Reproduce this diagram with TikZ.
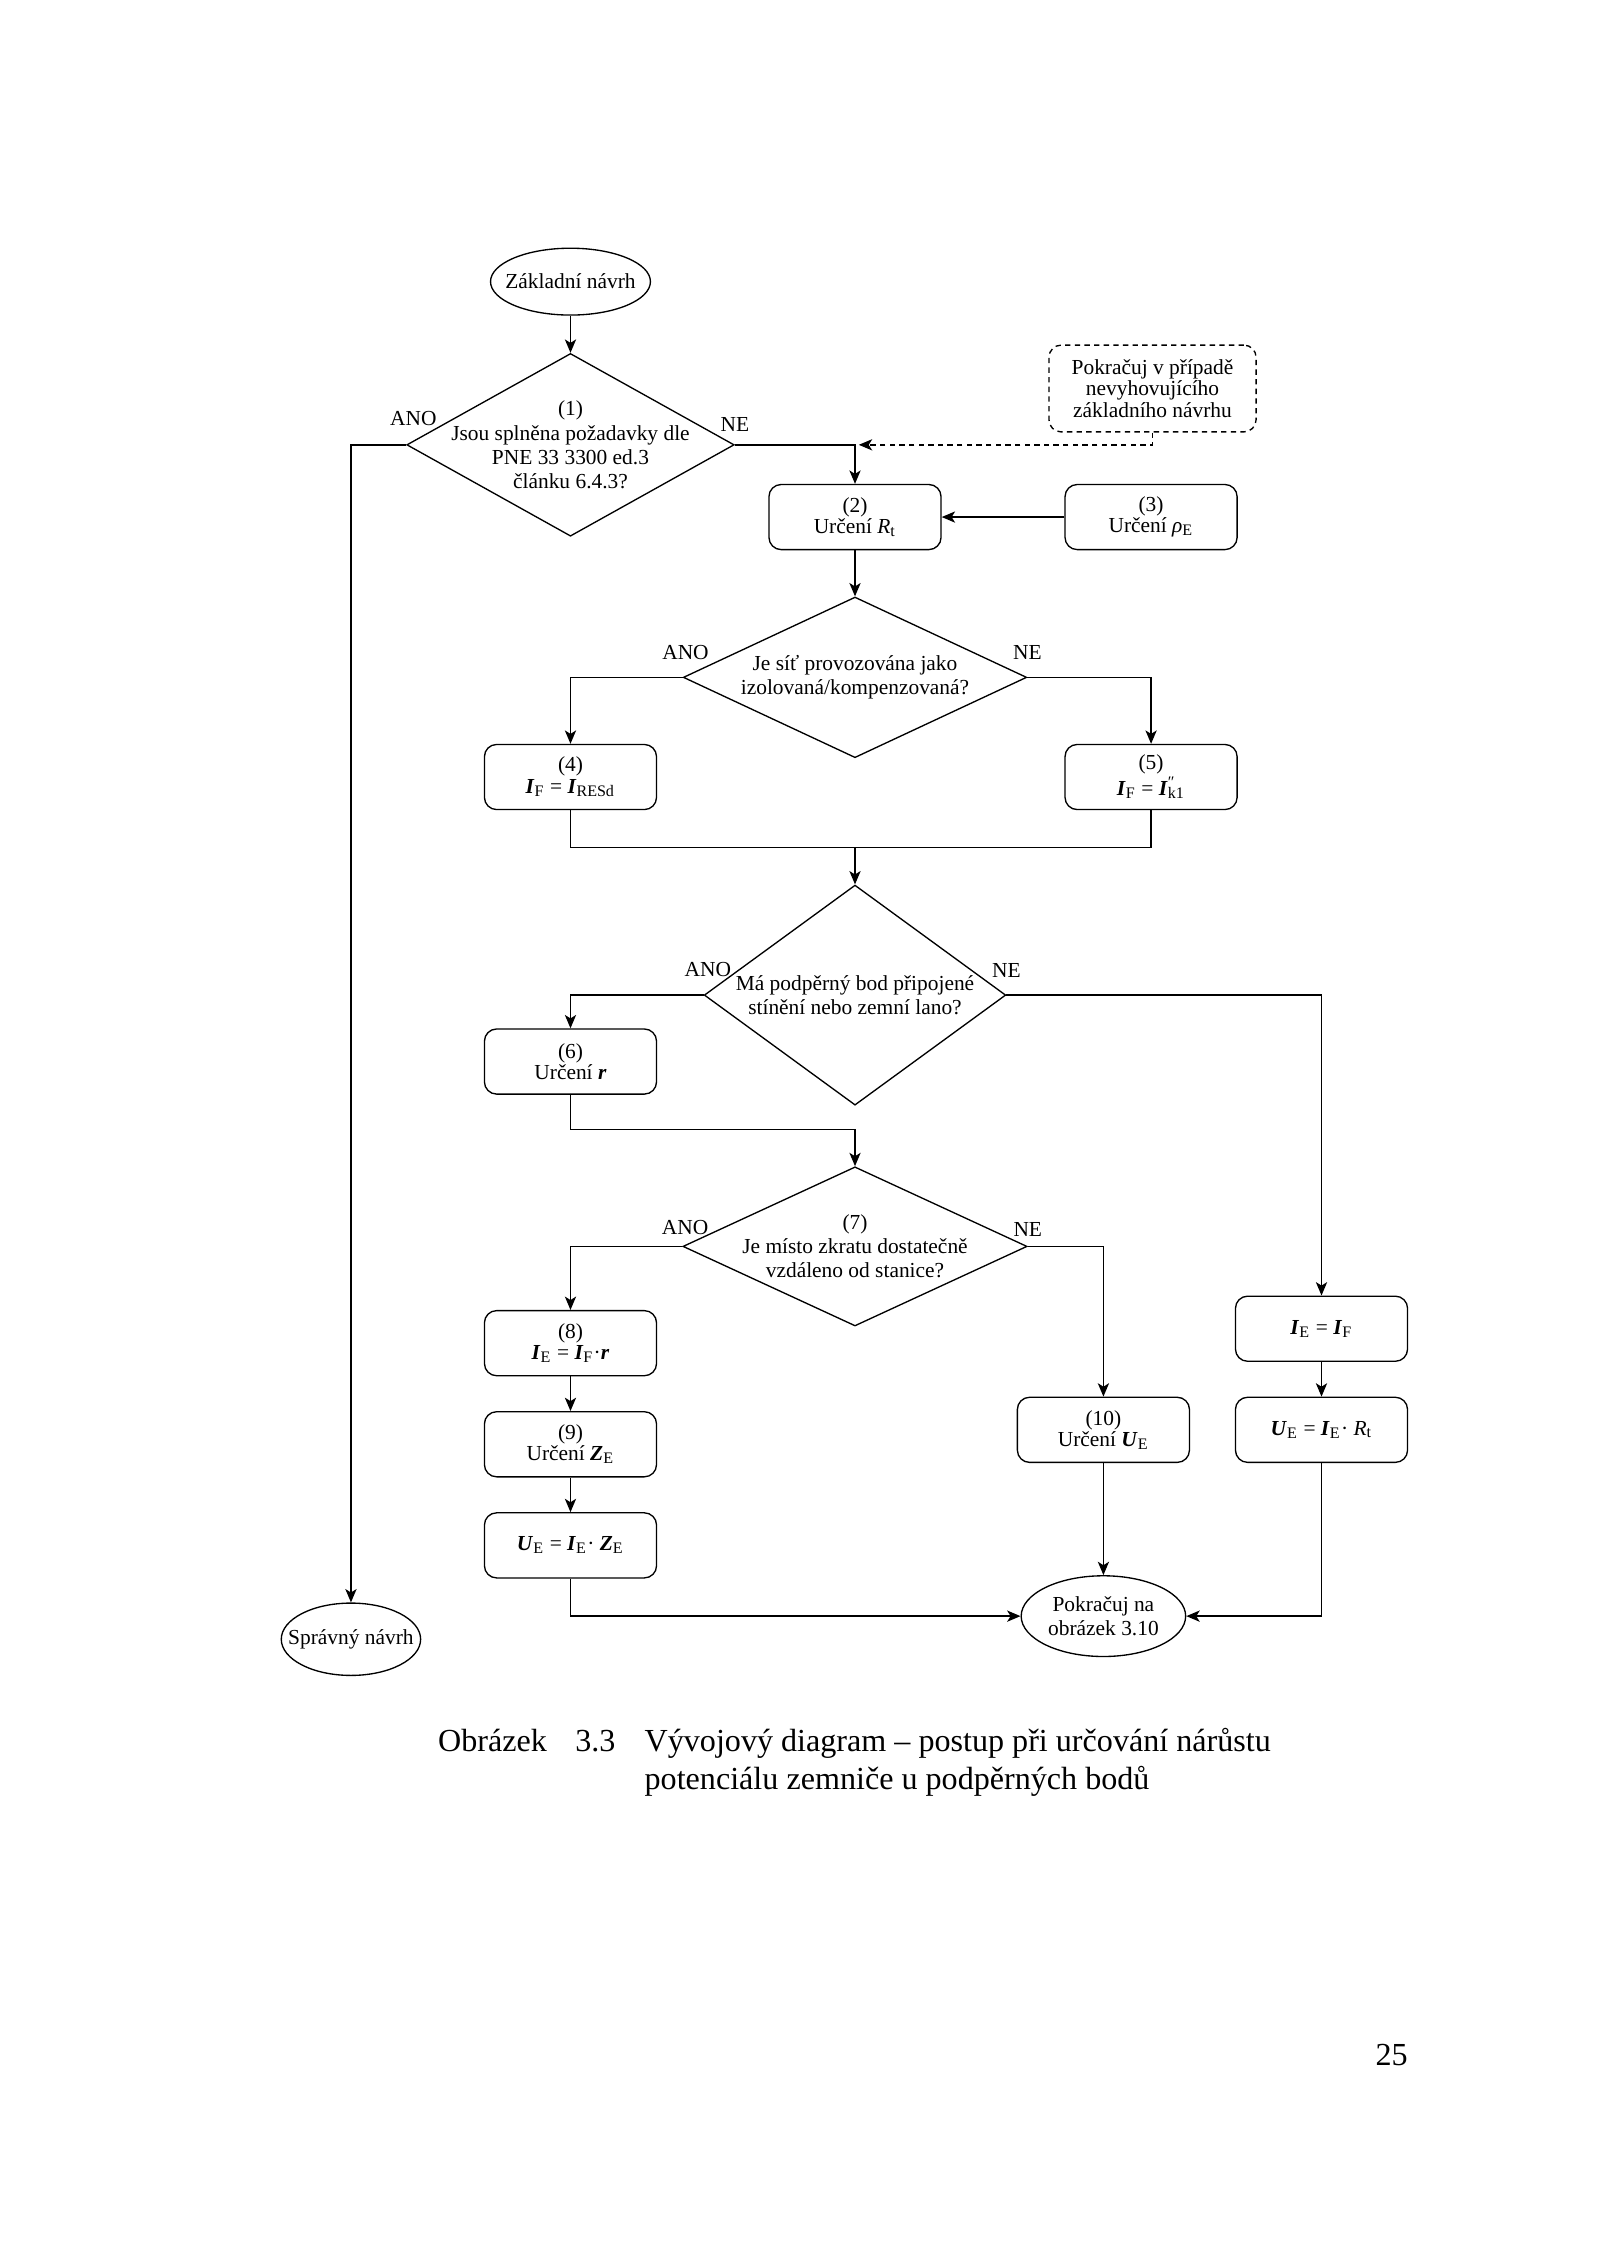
\documentclass[tikz,border=0pt]{standalone}
\usepackage{fontspec}
\setmainfont{Liberation Serif}
\usetikzlibrary{shapes.geometric,arrows.meta,calc}
\newcommand{\mydfont}{\fontsize{8}{9}\selectfont}
\newcommand{\myboxfont}{\fontsize{8}{7.9}\selectfont}
\newcommand{\mycapfont}{\fontsize{12}{14}\selectfont}
\newcommand{\bi}[1]{\textbf{\textit{#1}}}
\newcommand{\mysub}[1]{\textsubscript{#1}}
\begin{document}
\begin{tikzpicture}[x=0.18967mm,y=-0.18967mm,
  ln/.style={line width=0.5pt},
  arr/.style={line width=0.5pt,-{Stealth[length=5pt,width=4.2pt,inset=1.3pt]}},
  box/.style={draw,line width=0.5pt,rounded corners=1.6mm,minimum width=22.6mm,minimum height=8.55mm,inner sep=0pt,align=center,font=\myboxfont},
  dia/.style={draw,line width=0.5pt,diamond,inner sep=0pt},
  ell/.style={draw,line width=0.5pt,ellipse,inner sep=0pt},
  txt/.style={inner sep=0pt,align=center,font=\mydfont},
  lab/.style={inner sep=0pt,font=\mydfont},
  captxt/.style={inner sep=0pt,anchor=base west,font=\mycapfont}]
\useasboundingbox (0,0) rectangle (1107.2,1566.2);

% start
\node[ell,minimum width=21mm,minimum height=8.78mm] (z) at (395,195) {};
\node[txt] (zt) at (z) {Základní návrh};

% decision 1
\node[dia,minimum width=43.0mm,minimum height=24.0mm] (d1) at (395,308) {};
\node[txt] (d1t) at (d1) {(1)\\Jsou splněna požadavky dle\\PNE 33 3300 ed.3\\článku 6.4.3?};
\node[lab] (d1a) at ($(d1.west)+(5,-18)$) {ANO};
\node[lab] (d1n) at ($(d1.east)+(0,-14)$) {NE};

% end correct
\node[ell,minimum width=18.3mm,minimum height=9.5mm] (spr) at (243,1135) {};
\node[txt] (sprt) at (spr) {Správný návrh};

% dashed note
\node[draw,dash pattern=on 2pt off 1.6pt,line width=0.5pt,rounded corners=1.6mm,minimum width=27.2mm,minimum height=11.4mm,inner sep=0pt,align=center,font=\fontsize{8}{8.1}\selectfont] (dash) at (798,269) {Pokračuj v případě\\nevyhovujícího\\základního návrhu};

% boxes 2,3
\node[box] (b2) at (592,358) {(2)\\Určení \textit{R}\mysub{t}};
\node[box] (b3) at (797,358) {(3)\\Určení \textit{ρ}\mysub{E}};

% decision 2
\node[dia,minimum width=45.1mm,minimum height=21.1mm] (d2) at (592,469) {};
\node[txt] (d2t) at (d2) {Je síť provozována jako\\izolovaná/kompenzovaná?};
\node[lab] (d2a) at ($(d2.west)+(2,-17)$) {ANO};
\node[lab] (d2n) at ($(d2.east)+(0,-17)$) {NE};

% boxes 4,5
\node[box] (b4) at (395,538) {(4)\\\bi{I}\mysub{F} = \bi{I}\mysub{RESd}};
\node[box] (b5) at (797,538) {(5)\\\bi{I}\mysub{F} = \bi{I}\makebox[0pt][l]{\textsuperscript{″}}\mysub{k1}};

% decision 3
\node[dia,minimum width=39.6mm,minimum height=28.9mm] (d3) at (592,689) {};
\node[txt] (d3t) at (d3) {Má podpěrný bod připojené\\stínění nebo zemní lano?};
\node[lab] (d3a) at ($(d3.west)+(3,-18)$) {ANO};
\node[lab] (d3n) at ($(d3.east)+(0,-17)$) {NE};

% box 6
\node[box] (b6) at (395,735) {(6)\\Určení \bi{r}};

% decision 4
\node[dia,minimum width=45.2mm,minimum height=20.9mm] (d4) at (592,863) {};
\node[txt] (d4t) at (d4) {(7)\\Je místo zkratu dostatečně\\vzdáleno od stanice?};
\node[lab] (d4a) at ($(d4.west)+(2,-13)$) {ANO};
\node[lab] (d4n) at ($(d4.east)+(0,-12)$) {NE};

% left column
\node[box] (b8) at (395,930) {(8)\\\bi{I}\mysub{E} = \bi{I}\mysub{F}·\bi{r}};
\node[box] (b9) at (395,1000) {(9)\\Určení \bi{Z}\mysub{E}};
\node[box] (b11) at (395,1070) {\bi{U}\mysub{E} = \bi{I}\mysub{E}· \bi{Z}\mysub{E}};

% middle and right
\node[box] (b10) at (764,990) {(10)\\Určení \bi{U}\mysub{E}};
\node[box] (bIE) at (915,920) {\bi{I}\mysub{E} = \bi{I}\mysub{F}};
\node[box] (bUR) at (915,990) {\bi{U}\mysub{E} = \bi{I}\mysub{E}· \textit{R}\mysub{t}};

% continue
\node[ell,minimum width=21.6mm,minimum height=10.6mm] (pok) at (764,1119) {};
\node[txt] (pokt) at (pok) {Pokračuj na\\obrázek 3.10};

% connectors
\draw[arr] (z.south) -- (d1.north);
\draw[arr] (d1.west) -| (spr.north);
\draw[arr] (d1.east) -| (b2.north);
\coordinate (j1) at (b2.north |- d1.east);
\draw[arr,dash pattern=on 2pt off 1.6pt] (dash.south) |- ([xshift=0.5mm]j1);
\draw[arr] (b3.west) -- (b2.east);
\draw[arr] (b2.south) -- (d2.north);
\draw[arr] (d2.west) -| (b4.north);
\draw[arr] (d2.east) -| (b5.north);
\coordinate (m1) at (592,587);
\draw[ln] (b4.south) |- (m1) -| (b5.south);
\draw[arr] (m1) -- (d3.north);
\draw[arr] (d3.west) -| (b6.north);
\draw[arr] (d3.east) -| (bIE.north);
\coordinate (m2) at (592,782);
\draw[arr] (b6.south) |- (m2) -- (d4.north);
\draw[arr] (d4.west) -| (b8.north);
\draw[arr] (d4.east) -| (b10.north);
\draw[arr] (b8) -- (b9);
\draw[arr] (b9) -- (b11);
\draw[arr] (bIE) -- (bUR);
\draw[arr] (b10.south) -- (pok.north);
\draw[arr] (b11.south) |- (pok.west);
\draw[arr] (bUR.south) |- (pok.east);

% caption and page number
\node[captxt] (c1) at (303,1213) {Obrázek};
\node[captxt] (c2) at (398,1213) {3.3};
\node[captxt] (c3) at (446,1213) {Vývojový diagram – postup při určování nárůstu};
\node[captxt] (c4) at (446,1239) {potenciálu zemniče u podpěrných bodů};
\node[inner sep=0pt,anchor=base east,font=\mycapfont] (pg) at (975,1430) {25};
\end{tikzpicture}
\end{document}
